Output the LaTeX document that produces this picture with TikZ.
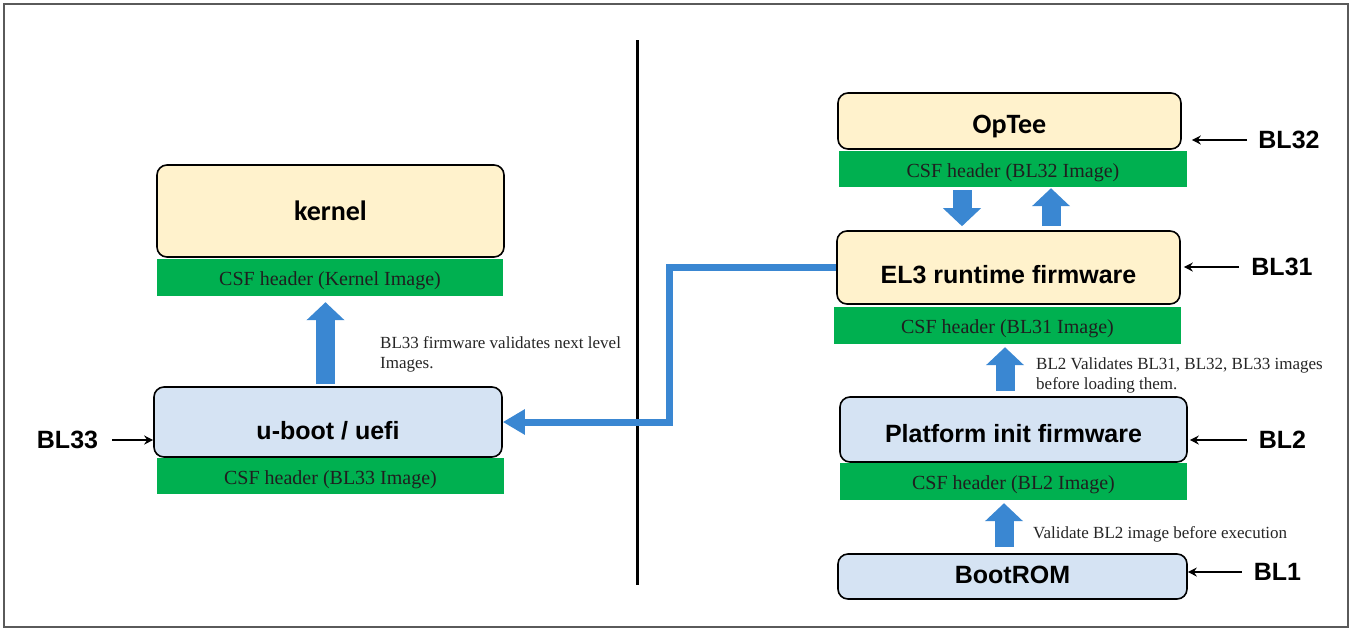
\documentclass[tikz,border=0pt]{standalone}
\usepackage{fontspec}
\setmainfont{Liberation Serif}
\newfontfamily\arialf{Liberation Sans}
\newfontfamily\calif{Carlito}
\usetikzlibrary{arrows.meta,calc}
\definecolor{cream}{HTML}{FFF2CC}
\definecolor{lblue}{HTML}{D5E3F3}
\definecolor{csfgreen}{HTML}{00B050}
\definecolor{flow}{HTML}{3A87D2}
\definecolor{framegray}{HTML}{5A5A5A}
\begin{document}
\begin{tikzpicture}[x=1pt,y=-1pt,
 box/.style={draw=black, line width=1.6pt, rounded corners=10pt, inner sep=0pt, text height=18pt, text depth=0pt, font=\arialf\bfseries\fontsize{25}{30}\selectfont},
 warm/.style={box, fill=cream},
 cool/.style={box, fill=lblue},
 hdr/.style={fill=csfgreen, inner sep=0pt, text height=20pt, text depth=4pt, font=\fontsize{20}{24}\selectfont, text=black!88},
 note/.style={align=left, anchor=north west, inner sep=0pt, font=\fontsize{17}{20}\selectfont, text=black!85},
 tag/.style={font=\arialf\bfseries\fontsize{25}{30}\selectfont, inner sep=0pt},
 tagarrow/.style={line width=2.2pt, -{Stealth[length=9pt,width=9pt]}},
 block/.style={line width=19pt, draw=flow, -{Triangle[width=37pt,length=18pt]}},
 link/.style={line width=7pt, draw=flow, -{Triangle[width=24pt,length=22pt]}},
]
\useasboundingbox (0,0) rectangle (1352,630);
\fill[white] (0,0) rectangle (1352,630);
\draw[framegray, line width=2pt] (4,4) rectangle (1348,627);

% divider
\coordinate (dtop) at (637,40);
\coordinate (dbot) at (637,585);
\draw[line width=3pt] (dtop) -- (dbot);

% left column
\node[warm, minimum width=347pt, minimum height=92pt] (kernel) at (330.5,211) {\calif\fontsize{28}{32}\selectfont kernel};
\node[hdr, minimum width=346pt, minimum height=37pt] (khdr) at (330,277.5) {CSF header (Kernel Image)};
\node[cool, minimum width=348pt, minimum height=70pt, text height=34pt] (uboot) at (328,422) {u-boot / uefi};
\node[hdr, minimum width=347pt, minimum height=36pt] (uhdr) at (330.5,476) {CSF header (BL33 Image)};
\node[note] (n33) at (380,336.5) {BL33 firmware validates next level\\Images.};
\node[tag] (bl33) at (67.5,440) {BL33};

% right column
\node[warm, minimum width=343pt, minimum height=56pt, text height=24pt] (optee) at (1009.5,121) {\calif\fontsize{28}{32}\selectfont OpTee};
\node[hdr, minimum width=348pt, minimum height=36pt] (ohdr) at (1013,169) {CSF header (BL32 Image)};
\node[warm, minimum width=343pt, minimum height=73pt, text height=32pt] (el3) at (1008.5,267.5) {EL3 runtime firmware};
\node[hdr, minimum width=347pt, minimum height=37pt] (ehdr) at (1007.5,325.5) {CSF header (BL31 Image)};
\node[cool, minimum width=347pt, minimum height=65pt, text height=26pt] (plat) at (1013.5,429.5) {Platform init firmware};
\node[hdr, minimum width=347pt, minimum height=37pt] (phdr) at (1013.5,481.5) {CSF header (BL2 Image)};
\node[cool, minimum width=349pt, minimum height=45pt, text height=13pt] (brom) at (1012.5,576.5) {BootROM};
\node[note] (n2) at (1036,357) {BL2 Validates BL31, BL32, BL33 images\\before loading them.};
\node[note] (n1) at (1033,526) {Validate BL2 image before execution};

\node[tag] (bl32) at (1289,140) {BL32};
\node[tag] (bl31) at (1282,267) {BL31};
\node[tag] (bl2) at (1282.5,440) {BL2};
\node[tag] (bl1) at (1277.5,572) {BL1};

% label arrows
\draw[tagarrow] ([xshift=14pt]bl33.east) -- (bl33.east -| uboot.west);
\draw[tagarrow] ([xshift=-11pt]bl32.west) -- ([xshift=10pt]bl32.west -| optee.east);
\draw[tagarrow] ([xshift=-12pt]bl31.west) -- ([xshift=3pt]bl31.west -| el3.east);
\draw[tagarrow] ([xshift=-12pt]bl2.west) -- ([xshift=2pt]bl2.west -| plat.east);
\draw[tagarrow] ([xshift=-12pt]bl1.west) -- (bl1.west -| brom.east);

% block arrows
\coordinate (xk) at (325.5,0);
\coordinate (xd) at (962,0);
\coordinate (xu) at (1051,0);
\coordinate (x2) at (1005,0);
\coordinate (x1) at (1004,0);
\draw[block] ($(xk |- uboot.north)+(0,-2)$) -- ($(xk |- khdr.south)+(0,6)$);
\draw[block] ($(xd |- ohdr.south)+(0,3)$) -- ($(xd |- el3.north)+(0,-4)$);
\draw[block] ($(xu |- el3.north)+(0,-4)$) -- ($(xu |- ohdr.south)+(0,1)$);
\draw[block] ($(x2 |- plat.north)+(0,-5)$) -- ($(x2 |- ehdr.south)+(0,3)$);
\draw[block] ($(x1 |- brom.north)+(0,-6)$) -- ($(x1 |- phdr.south)+(0,3)$);

% link from EL3 to u-boot
\coordinate (jog) at (669,345);
\draw[link] (el3.west) -| (jog) |- (uboot.east);
\end{tikzpicture}
\end{document}
